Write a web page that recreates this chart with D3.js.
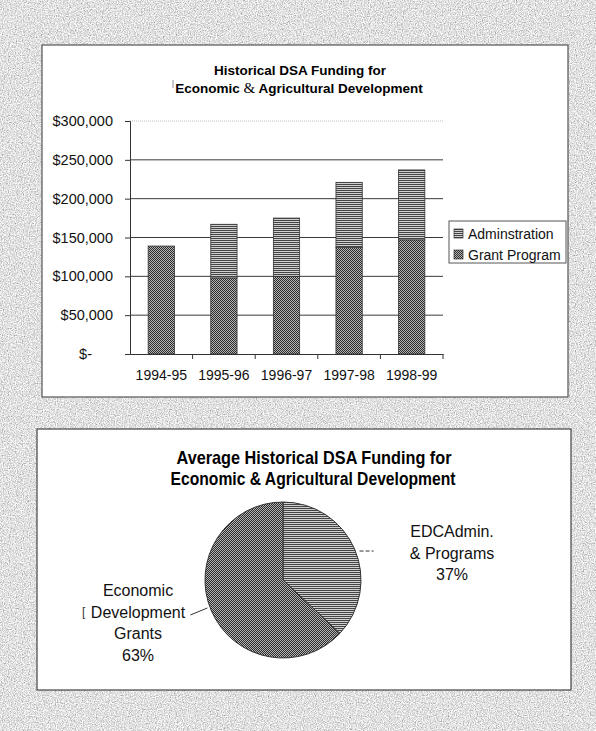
<!DOCTYPE html>
<html>
<head>
<meta charset="utf-8">
<script src="https://cdn.jsdelivr.net/npm/d3@7"></script>
<style>
  body { margin: 0; background: #c4c4c4; }
  svg { display: block; font-family: "Liberation Sans", Arial, sans-serif; }
</style>
</head>
<body>
<div id="chart"></div>
<script>
// values
var years = ["1994-95", "1995-96", "1996-97", "1997-98", "1998-99"];
var grantProgram = [139000, 98000, 100000, 137000, 147000];
var adminstration = [0, 69000, 75000, 84000, 90000];
var yTicks = [0, 50000, 100000, 150000, 200000, 250000, 300000];
var seriesNames = ["Adminstration", "Grant Program"];

var pieNames = ["EDCAdmin.|& Programs", "Economic|Development|Grants"];
var pieShares = [37, 63];

var W = 596, H = 731;

var svg = d3.select("#chart").append("svg")
    .attr("width", W)
    .attr("height", H);

var defs = svg.append("defs");

// paper grain outside the two frames
var grain = defs.append("filter").attr("id", "grain")
    .attr("x", 0).attr("y", 0).attr("width", 1).attr("height", 1);
grain.append("feTurbulence")
    .attr("type", "fractalNoise")
    .attr("baseFrequency", 0.85)
    .attr("numOctaves", 3)
    .attr("seed", 4);
grain.append("feColorMatrix")
    .attr("type", "matrix")
    .attr("values", "1.1 0 0 0 0.2  1.1 0 0 0 0.2  1.1 0 0 0 0.2  0 0 0 0 1");

// crosshatch (grant) and horizontal lines (admin)
var cross = defs.append("pattern").attr("id", "cross")
    .attr("width", 2).attr("height", 2)
    .attr("patternUnits", "userSpaceOnUse");
cross.append("rect").attr("width", 2).attr("height", 2).attr("fill", "#b4b4b4");
cross.append("rect").attr("width", 1).attr("height", 1).attr("fill", "#2c2c2c");
cross.append("rect").attr("x", 1).attr("y", 1).attr("width", 1).attr("height", 1).attr("fill", "#2c2c2c");

var hlines = defs.append("pattern").attr("id", "hlines")
    .attr("width", 4).attr("height", 2)
    .attr("patternUnits", "userSpaceOnUse");
hlines.append("rect").attr("width", 4).attr("height", 2).attr("fill", "#cfcfcf");
hlines.append("rect").attr("width", 4).attr("height", 1).attr("fill", "#444");

var fills = { "Adminstration": "url(#hlines)", "Grant Program": "url(#cross)" };

svg.append("rect")
    .attr("width", W).attr("height", H)
    .attr("filter", "url(#grain)");

// frames
svg.append("rect")
    .attr("x", 42).attr("y", 45).attr("width", 526).attr("height", 352)
    .attr("fill", "#fff").attr("stroke", "#555").attr("stroke-width", 1.2);
svg.append("rect")
    .attr("x", 37).attr("y", 429).attr("width", 534).attr("height", 261)
    .attr("fill", "#fff").attr("stroke", "#444").attr("stroke-width", 1.2);

// ---------- bar chart ----------
var margin = { top: 121, left: 130, right: 443, bottom: 354 };

var x = d3.scaleBand()
    .domain(years)
    .range([margin.left, margin.right])
    .paddingInner(0.58)
    .paddingOuter(0.29);

var y = d3.scaleLinear()
    .domain([0, 300000])
    .range([margin.bottom, margin.top]);

svg.append("text")
    .attr("x", 300).attr("y", 75)
    .attr("text-anchor", "middle")
    .style("font-size", "13.5px").style("font-weight", "bold")
    .text("Historical DSA Funding for");
var title2 = svg.append("text")
    .attr("x", 299).attr("y", 93)
    .attr("text-anchor", "middle")
    .style("font-size", "13.5px").style("font-weight", "bold");
title2.append("tspan").text("Economic ");
title2.append("tspan").style("font-family", "'Liberation Serif', serif").style("font-weight", "normal").style("font-size", "15px").text("&");
title2.append("tspan").text(" Agricultural Development");
svg.append("line")
    .attr("x1", 173).attr("x2", 173).attr("y1", 80).attr("y2", 88)
    .attr("stroke", "#777").attr("stroke-width", 0.8);

// gridlines
svg.append("g")
    .selectAll("line")
    .data(yTicks.filter(function(d){ return d > 0; }))
    .enter().append("line")
    .attr("x1", margin.left).attr("x2", margin.right)
    .attr("y1", function(d){ return y(d); })
    .attr("y2", function(d){ return y(d); })
    .attr("stroke", function(d){ return d === 300000 ? "#bbb" : "#3a3a3a"; })
    .attr("stroke-dasharray", function(d){ return d === 300000 ? "1,1" : null; })
    .attr("stroke-width", 1);

var yAxis = svg.append("g")
    .attr("transform", "translate(" + margin.left + ",0)")
    .call(d3.axisLeft(y).tickValues(yTicks).tickSize(5).tickPadding(12)
        .tickFormat(function(d){ return d === 0 ? "$-" : d3.format("$,")(d); }));
yAxis.select(".domain").attr("stroke", "#333");
yAxis.selectAll(".tick line").attr("stroke", "#333");
yAxis.selectAll("text")
    .style("font-size", "14.5px").style("fill", "#111")
    .style("font-family", "'Liberation Sans', Arial, sans-serif")
    .attr("dx", function(d){ return d === 0 ? -21 : 0; });

var xAxis = svg.append("g")
    .attr("transform", "translate(0," + margin.bottom + ")")
    .call(d3.axisBottom(x).tickSize(0).tickPadding(16));
xAxis.select(".domain").attr("stroke", "#333");
xAxis.selectAll("text")
    .style("font-size", "14px").style("fill", "#111")
    .style("font-family", "'Liberation Sans', Arial, sans-serif");
// ticks between categories
var step = x.step();
svg.append("g")
    .selectAll("line")
    .data(years)
    .enter().append("line")
    .attr("x1", function(d){ return x(d) - x.paddingInner() * step / 2 + step; })
    .attr("x2", function(d){ return x(d) - x.paddingInner() * step / 2 + step; })
    .attr("y1", margin.bottom).attr("y2", margin.bottom + 5)
    .attr("stroke", "#333");

var rows = years.map(function(yr, i){
    return { year: yr, "Grant Program": grantProgram[i], "Adminstration": adminstration[i] };
});
var stacked = d3.stack().keys(["Grant Program", "Adminstration"])(rows);

svg.append("g")
    .selectAll("g")
    .data(stacked)
    .enter().append("g")
    .attr("fill", function(s){ return fills[s.key]; })
    .selectAll("rect")
    .data(function(s){ return s.filter(function(d){ return d[1] > d[0]; }); })
    .enter().append("rect")
    .attr("x", function(d){ return x(d.data.year); })
    .attr("width", x.bandwidth())
    .attr("y", function(d){ return y(d[1]); })
    .attr("height", function(d){ return y(d[0]) - y(d[1]); })
    .attr("stroke", "#333").attr("stroke-width", 0.8);

// legend
var legend = svg.append("g").attr("transform", "translate(449,221)");
legend.append("rect")
    .attr("width", 117).attr("height", 42)
    .attr("fill", "#fff").attr("stroke", "#555").attr("stroke-width", 1);
var item = legend.selectAll("g.item")
    .data(seriesNames)
    .enter().append("g").attr("class", "item")
    .attr("transform", function(d, i){ return "translate(5," + (8 + i * 21) + ")"; });
item.append("rect")
    .attr("width", 9).attr("height", 9)
    .attr("fill", function(d){ return fills[d]; })
    .attr("stroke", "#333").attr("stroke-width", 0.7);
item.append("text")
    .attr("x", 14).attr("y", 9.5)
    .style("font-size", "14px").style("fill", "#111")
    .text(function(d){ return d; });

// ---------- pie ----------
svg.append("text")
    .attr("x", 314).attr("y", 464)
    .attr("text-anchor", "middle")
    .attr("textLength", 275).attr("lengthAdjust", "spacingAndGlyphs")
    .style("font-size", "18.5px").style("font-weight", "bold")
    .text("Average Historical DSA Funding for");
svg.append("text")
    .attr("x", 313).attr("y", 485)
    .attr("text-anchor", "middle")
    .attr("textLength", 285).attr("lengthAdjust", "spacingAndGlyphs")
    .style("font-size", "18.5px").style("font-weight", "bold")
    .text("Economic & Agricultural Development");

var cx = 283, cy = 580, r = 78;
var pie = d3.pie().sort(null).value(function(d){ return d; });
var arc = d3.arc().innerRadius(0).outerRadius(r);
var edge = d3.arc().innerRadius(r).outerRadius(r);
var slices = pie(pieShares);
var pieFills = ["url(#hlines)", "url(#cross)"];

var pg = svg.append("g").attr("transform", "translate(" + cx + "," + cy + ")");
pg.selectAll("path")
    .data(slices)
    .enter().append("path")
    .attr("d", arc)
    .attr("fill", function(d, i){ return pieFills[i]; })
    .attr("stroke", "#333").attr("stroke-width", 1);

// leader lines
var a0 = edge.centroid(slices[0]);
pg.append("line")
    .attr("x1", a0[0] + 5).attr("y1", a0[1] + 2)
    .attr("x2", a0[0] + 19).attr("y2", a0[1] + 2)
    .attr("stroke", "#333").attr("stroke-dasharray", "4,2");
var a1 = edge.centroid(slices[1]);
pg.append("line")
    .attr("x1", a1[0] - 4).attr("y1", a1[1] - 3)
    .attr("x2", a1[0] - 21).attr("y2", a1[1] + 4)
    .attr("stroke", "#333");

var labelPos = [[452, 537], [138, 596]];
slices.forEach(function(s, i){
    var lines = pieNames[i].split("|").concat([pieShares[i] + "%"]);
    var t = svg.append("text")
        .attr("text-anchor", "middle")
        .style("font-size", "16px").style("fill", "#111");
    lines.forEach(function(l, j){
        t.append("tspan")
            .attr("x", labelPos[i][0])
            .attr("y", labelPos[i][1] + j * 21.5)
            .text(l);
    });
});
svg.append("text")
    .attr("x", 82).attr("y", 616)
    .style("font-size", "12px").style("fill", "#333")
    .text("[");
</script>
</body>
</html>
